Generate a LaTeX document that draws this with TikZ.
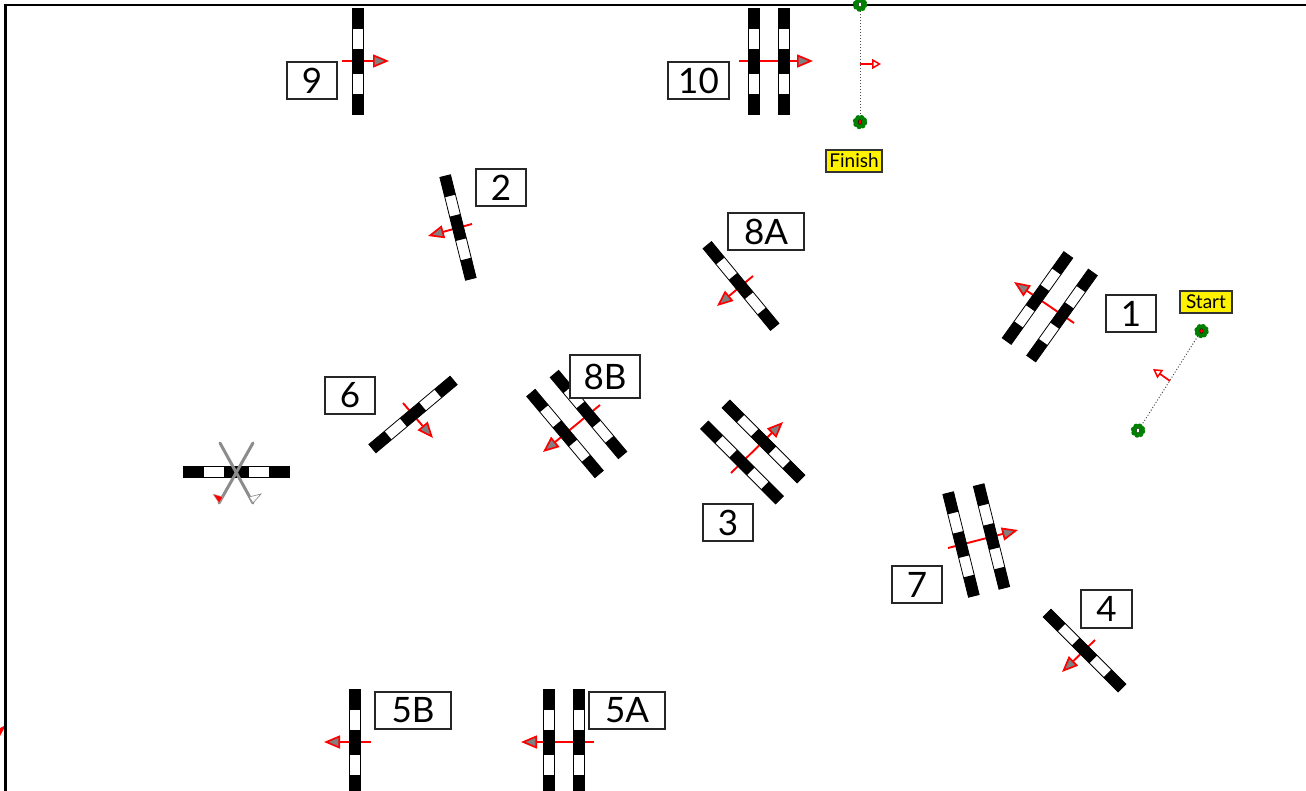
\documentclass[tikz,border=0pt]{standalone}
\usepackage{fontspec}
\setmainfont{Lato}
\usetikzlibrary{arrows.meta}
\definecolor{mygreen}{RGB}{0,128,0}
\tikzset{
  numbox/.style={draw=black!85,line width=1.1pt,fill=white,anchor=center,inner sep=0pt,font=\fontsize{35}{35}\selectfont},
  tagbox/.style={draw=black!80,line width=1.1pt,fill=yellow,anchor=center,inner sep=0pt,font=\fontsize{19}{19}\selectfont},
  passarrow/.style={draw=red,line width=1.9pt,-{Triangle[length=16pt,width=13pt,line width=1.7pt,fill=gray]}},
  openarrow/.style={draw=red,line width=1.7pt,-{Triangle[length=9pt,width=10pt,line width=1.5pt,fill=white]}},
  dotline/.style={draw=black!70,line width=1pt,dotted},
  crossline/.style={draw=black!45,line width=3pt,line cap=round}
}
% \gatebar{cx}{cy}{angle of the long axis, as seen}
\newcommand{\gatebar}[3]{%
  \begin{scope}[shift={(#1,#2)},rotate=-#3]
    \fill[white] (-53,-5.5) rectangle (53,5.5);
    \draw[black,line width=.8pt] (-53,-5.5) rectangle (53,5.5);
    \fill[black] (-53,-5.5) rectangle (-32.5,5.5);
    \fill[black] (-12.5,-5.5) rectangle (12.5,5.5);
    \fill[black] (32.5,-5.5) rectangle (53,5.5);
  \end{scope}}
% \pass{name}{x1,y1}{x2,y2}
\newcommand{\pass}[3]{%
  \coordinate (#1a) at (#2);\coordinate (#1b) at (#3);
  \draw[passarrow] (#1a) -- (#1b);}
% \blob{name}{x}{y}{inner colour}
\newcommand{\blob}[4]{%
  \coordinate (#1) at (#2,#3);
  \fill[mygreen] (#1) circle (5.8);
  \foreach \q in {10,55,100,150,195,245,290,335}{\fill[mygreen] (#1) ++(\q:4.6) circle (2.7);}
  \fill[#4,draw=black,line width=.3pt] (#1) ellipse (1.7 and 2.4);}
\newcommand{\lab}[6]{\node[numbox,minimum width=#4pt,minimum height=#5pt] (#1) at (#2,#3) {#6};}
\begin{document}
\begin{tikzpicture}[x=1pt,y=-1pt]
\useasboundingbox (0,0) rectangle (1306,790);
\fill[white] (0,0) rectangle (1306,790);
\begin{scope}
\clip (0,0) rectangle (1306,790);
% clipped arrowhead at left edge
\fill[red] (0,736) -- (6,725) -- (0,728) -- cycle;
% arrows lie under the gates
\pass{aNine}{342,61}{389,61}
\pass{aTen}{739,61}{813,61}
\pass{aTwo}{472,224}{428,236}
\pass{aEightA}{753,276}{717,306}
\pass{aOne}{1074,323}{1014,282}
\pass{aEightB}{600,405}{543,452}
\pass{aThree}{731,473}{783,422}
\pass{aSix}{403,403}{433,438}
\pass{aSeven}{948,548}{1018,530}
\pass{aFour}{1095,640}{1062,672}
\pass{aFiveB}{371,742}{324,742}
\pass{aFiveA}{594,742}{521,742}
% gates
\gatebar{357.5}{61.5}{90}
\gatebar{753.5}{61.5}{90}
\gatebar{783.5}{61.5}{90}
\gatebar{458}{227.5}{76}
\gatebar{741}{286}{50.5}
\gatebar{1037.5}{298}{-54.5}
\gatebar{1062}{315.5}{-54.5}
\gatebar{588.5}{414.5}{50}
\gatebar{565}{433.5}{50}
\gatebar{763.5}{441.5}{45}
\gatebar{742}{462.5}{45}
\gatebar{413}{414.5}{-40}
\gatebar{236.5}{472}{0}
\gatebar{961}{544.5}{76}
\gatebar{991.5}{536.5}{76}
\gatebar{1084.5}{650.5}{45}
\gatebar{355}{742.5}{90}
\gatebar{549}{742.5}{90}
\gatebar{579}{742.5}{90}
% crossed-out gate
\coordinate (xa) at (220,443);\coordinate (xb) at (253,503);
\coordinate (xc) at (253,443);\coordinate (xd) at (219,503);
\draw[crossline] (xa) -- (xb);
\draw[crossline] (xc) -- (xd);
\fill[red,draw=black!30,line width=.4pt] (213,494) -- (223,497) -- (219,503) -- cycle;
\fill[white,draw=black!45,line width=.7pt] (261,494) -- (253,503) -- (249,497) -- cycle;
% start and finish lines
\coordinate (fa) at (860,5);\coordinate (fb) at (860,122);
\coordinate (sa) at (1201,331);\coordinate (sb) at (1138,431);
\draw[dotline] (fa) -- (fb);
\draw[dotline] (sa) -- (sb);
\coordinate (fc) at (860,64);\coordinate (fd) at (881,64);
\draw[openarrow] (fc) -- (fd);
\coordinate (sc) at (1170,381);\coordinate (sd) at (1153,369);
\draw[openarrow] (sc) -- (sd);
% frame
\draw[black,line width=2.1pt] (5.5,800) -- (5.5,5) -- (1320,5);
\blob{fw}{860}{4.5}{white}
\blob{fr}{860}{122}{red}
\blob{sr}{1201.5}{331}{red}
\blob{sw}{1138}{430.5}{white}
% labels
\lab{nNine}{312}{80.5}{50}{37}{9}
\lab{nTen}{698.5}{80.5}{61}{37}{10}
\lab{nTwo}{501}{187.5}{50}{37}{2}
\lab{nEightA}{766}{231.5}{76}{37}{8A}
\lab{nOne}{1131}{313.5}{50}{37}{1}
\lab{nSix}{350}{395.5}{50}{37}{6}
\lab{nEightB}{605}{376.5}{70}{43}{8B}
\lab{nThree}{728}{522.5}{50}{37}{3}
\lab{nSeven}{917}{584.5}{50}{37}{7}
\lab{nFour}{1106.5}{609}{51}{38}{4}
\lab{nFiveB}{413}{710.5}{76}{37}{5B}
\lab{nFiveA}{627}{710.5}{76}{37}{5A}
\node[tagbox,minimum width=56pt,minimum height=22pt] (tFinish) at (854,161) {Finish};
\node[tagbox,minimum width=52pt,minimum height=22pt] (tStart) at (1206,302) {Start};
\end{scope}
\end{tikzpicture}
\end{document}
